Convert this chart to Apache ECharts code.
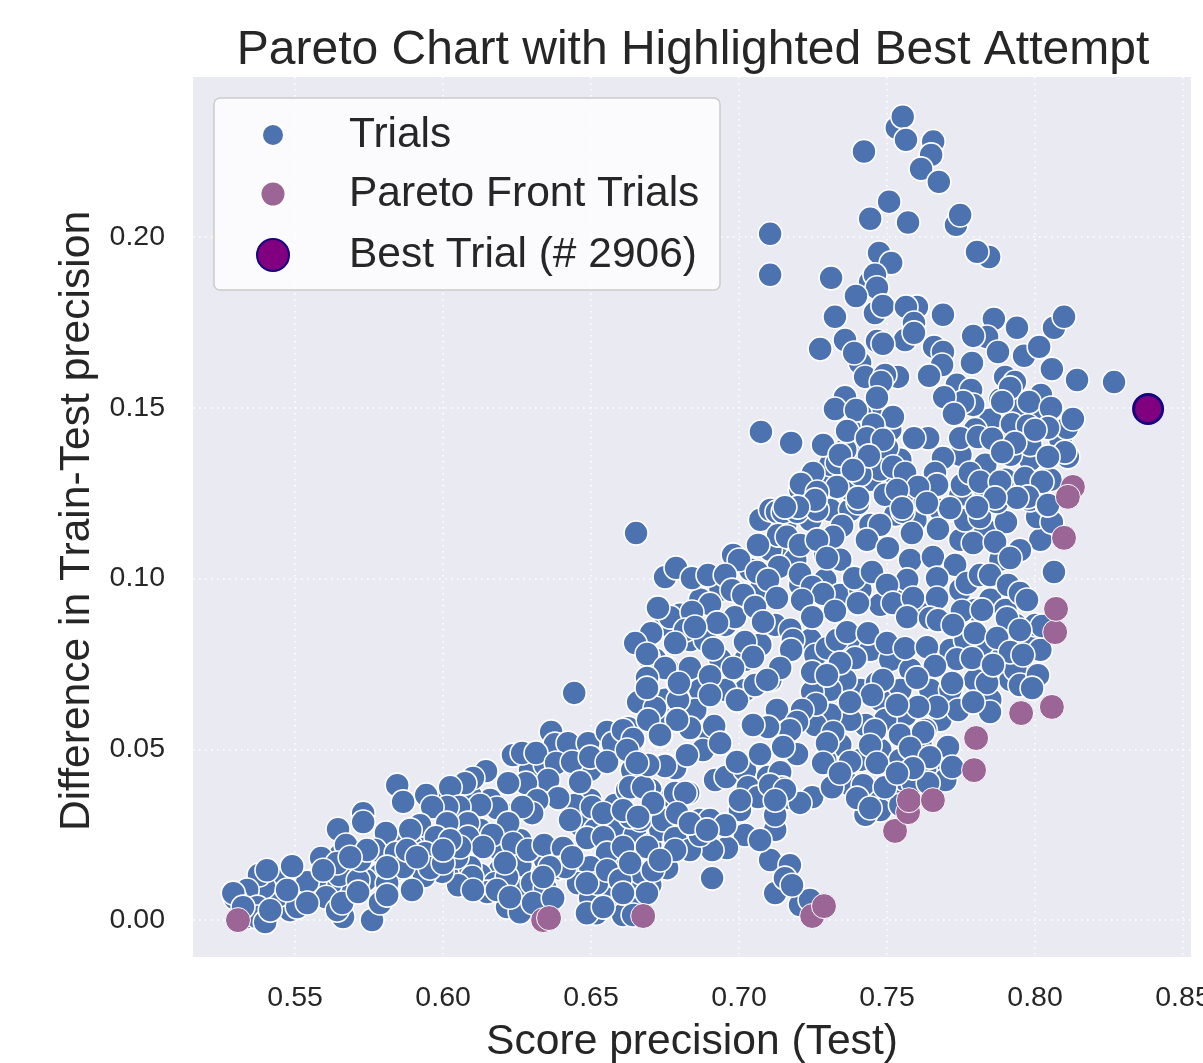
<!DOCTYPE html>
<html><head><meta charset="utf-8">
<style>html,body{margin:0;padding:0;background:#fff}#c{width:1203px;height:1063px}</style>
<script src="https://cdn.jsdelivr.net/npm/echarts@6/dist/echarts.min.js"></script>
</head><body><div id="c"></div>
<script>
const xTicks=[0.55,0.60,0.65,0.70,0.75,0.80,0.85];
const yTicks=[0,0.05,0.10,0.15,0.20];
const bestTrial=[[0.8382,0.1496]];
const paretoTrials=[[.5307,0],[.6338,0],[.6358,.0006],[.6676,.0012],[.7247,.0012],[.7287,.0041],[.7527,.0261],[.7571,.0316],[.7574,.0351],[.7655,.0351],[.7794,.0439],[.7801,.0533],[.7953,.0606],[.8057,.0624],[.8068,.0843],[.8071,.0911],[.8098,.1119],[.8128,.1268],[.8111,.1239]];
const trialsHiddenCentre=[[.6835,.0820],[.6886,.0820],[.6953,.0864],[.7021,.0762],[.7072,.0806],[.7122,.0864],[.7173,.0850],[.7241,.0820],[.7258,.0776],[.7106,.0703],[.7021,.0674],[.6953,.0674],[.6937,.0762],[.6869,.0674],[.6717,.0762],[.6751,.0645],[.6801,.0601],[.6852,.0615],[.6903,.0542],[.6751,.0586],[.7376,.0820],[.7444,.0791],[.7511,.0762],[.7579,.0733],[.7646,.0674],[.7545,.0674],[.7477,.0645],[.7410,.0674],[.7359,.0703],[.7308,.0674],[.7247,.0668],[.7714,.0791],[.7765,.0820],[.7832,.0791],[.7883,.0762],[.7917,.0703],[.7849,.0645],[.7798,.0703],[.7714,.0674],[.7680,.0586],[.7629,.0557],[.7562,.0601],[.7494,.0586],[.7427,.0571],[.7376,.0586],[.7308,.0601],[.7258,.0571],[.7477,.0498],[.7545,.0469],[.7613,.0513],[.7680,.0440],[.7410,.0469],[.7342,.0513],[.7291,.0469],[.7376,.0396],[.7444,.0366],[.7511,.0381],[.7562,.0410],[.7629,.0440],[.7697,.0410],[.7477,.0322],[.7427,.0308],[.7545,.0337]];
const trialsHiddenUpper=[[.7072,.0967],[.7139,.1055],[.7207,.0982],[.7291,.0996],[.7342,.0952],[.7410,.0967],[.7477,.0923],[.7562,.0938],[.7629,.0908],[.7748,.0967],[.7798,.0908],[.7849,.0938],[.7900,.0908],[.7934,.0864],[.7984,.0820],[.8001,.0864],[.8018,.0791],[.7950,.0762],[.7984,.0718],[.7934,.0733],[.7241,.1172],[.7308,.1201],[.7376,.1201],[.7444,.1157],[.7528,.1187],[.7596,.1172],[.7680,.1201],[.7748,.1113],[.7832,.1143],[.7883,.1055],[.8018,.1113],[.7291,.1069],[.7342,.1055],[.7190,.1055],[.7106,.1084],[.7038,.1026],[.6937,.0967],[.6869,.0938],[.6801,.0894],[.6751,.0864],[.7072,.1172],[.7156,.1157],[.7241,.1245],[.7308,.1289],[.7376,.1260],[.7444,.1289],[.7528,.1304],[.7596,.1260],[.7748,.1245],[.7832,.1260],[.7900,.1289],[.7967,.1260],[.8052,.1289],[.7984,.1348],[.7917,.1362],[.7832,.1333],[.7748,.1362],[.7308,.1333],[.7393,.1362],[.7207,.1260],[.7106,.1201],[.7883,.1524],[.7950,.1494],[.8018,.1465],[.8086,.1406],[.7984,.1392],[.7917,.1436],[.7849,.1465],[.7798,.1436],[.7511,.1436],[.7460,.1465],[.7410,.1480],[.7376,.1436],[.7359,.1377],[.7477,.1319],[.7545,.1348],[.7410,.1304]];
const trialsHiddenLower=[[.6294,.0440],[.6345,.0454],[.6446,.0454],[.6497,.0440],[.6700,.0381],[.6497,.0352],[.6446,.0337],[.6227,.0308],[.6159,.0352],[.6092,.0366],[.6007,.0352],[.6261,.0234],[.6193,.0205],[.6125,.0264],[.6024,.0278],[.5956,.0234],[.5889,.0220],[.6463,.0278],[.6514,.0264],[.6582,.0278],[.6649,.0249],[.6700,.0220],[.6734,.0264],[.6599,.0161],[.6548,.0147],[.6615,.0117],[.6666,.0073],[.6700,.0103],[.6430,.0176],[.6345,.0176],[.6261,.0161],[.6193,.0147],[.6125,.0132],[.6041,.0147],[.5973,.0176],[.5923,.0161],[.5838,.0147],[.5787,.0132],[.5737,.0117],[.5686,.0103],[.5618,.0103],[.5568,.0117],[.5466,.0073],[.5399,.0044],[.5348,.0044],[.5365,.0088],[.5432,.0117],[.5652,.0190],[.5601,.0147],[.5720,.0176],[.5787,.0205],[.5855,.0234]];
const trialsUpper=[[.7533,.2319],[.7553,.2352],[.7564,.2284],[.7656,.2279],[.7649,.2240],[.7422,.2250],[.7615,.2199],[.7675,.2161],[.7507,.2103],[.7443,.2053],[.7571,.2042],[.7733,.2035],[.7747,.2064],[.7105,.2009],[.7105,.1889],[.7845,.1941],[.7804,.1956],[.7473,.1953],[.7514,.1924],[.7443,.1868],[.7459,.1889],[.7466,.1851],[.7311,.1880],[.7395,.1827],[.7459,.1777],[.7486,.1798],[.7601,.1795],[.7564,.1795],[.7324,.1766],[.7689,.1772],[.7861,.1760],[.8064,.1734],[.8098,.1766],[.7939,.1734],[.7838,.1707],[.7791,.1710],[.7591,.1748],[.7561,.1698],[.7591,.1719],[.7466,.1695],[.7486,.1687],[.7358,.1698],[.7274,.1672],[.7409,.1631],[.7389,.1660],[.7659,.1678],[.7689,.1663],[.7963,.1652],[.8014,.1678],[.7875,.1663],[.7787,.1631],[.7686,.1625],[.7642,.1593],[.8057,.1613],[.8142,.1581],[.8267,.1575],[.7426,.1590],[.7537,.1590],[.7493,.1596],[.7480,.1575],[.7736,.1567],[.7899,.1590],[.7932,.1575],[.7916,.1558],[.7784,.1552],[.7358,.1531],[.8020,.1537],[.7791,.1508],[.7757,.1517],[.7693,.1531],[.7466,.1529],[.7324,.1496],[.7395,.1493],[.7889,.1517],[.7980,.1517],[.8054,.1499],[.8108,.1441],[.8128,.1467],[.7520,.1473],[.7453,.1450],[.7726,.1482],[.7922,.1452],[.7976,.1447],[.8044,.1441],[.8000,.1435],[.7365,.1432],[.7074,.1429],[.7176,.1397],[.7284,.1391],[.7432,.1411],[.7500,.1382],[.7486,.1406],[.7639,.1411],[.7591,.1411],[.7747,.1411],[.7807,.1414],[.7855,.1409],[.7932,.1397],[.7889,.1370],[.8111,.1356],[.8101,.1370],[.8044,.1356],[.7331,.1338],[.7341,.1362],[.7439,.1359],[.7689,.1353],[.7520,.1327],[.7385,.1318],[.7250,.1309],[.7209,.1277],[.7331,.1268],[.7561,.1309],[.7662,.1309],[.7669,.1274],[.7605,.1268],[.7753,.1274],[.7780,.1309],[.7814,.1283],[.7882,.1283],[.7966,.1294],[.8024,.1283],[.7976,.1239],[.7939,.1236],[.7865,.1236],[.8044,.1215],[.7493,.1245],[.7402,.1236],[.7534,.1259],[.7264,.1253],[.7257,.1230],[.7199,.1209],[.7155,.1209],[.7551,.1206],[.7713,.1206],[.7804,.1209],[.7635,.1221]];
const trialsMiddle=[[.6652,.1133],[.7128,.1195],[.7149,.1195],[.7196,.1195],[.7264,.1201],[.7402,.1221],[.7554,.1195],[.7713,.1201],[.7628,.1224],[.7764,.1171],[.7814,.1180],[.7902,.1165],[.8007,.1180],[.8057,.1165],[.7872,.1224],[.7983,.1230],[.8041,.1215],[.7348,.1154],[.7476,.1157],[.7672,.1145],[.7584,.1133],[.7432,.1113],[.7318,.1122],[.7132,.1127],[.7162,.1122],[.7206,.1098],[.7264,.1113],[.7064,.1098],[.7503,.1089],[.6980,.1069],[.7000,.1054],[.7297,.1060],[.7578,.1054],[.7655,.1063],[.7791,.1104],[.7865,.1107],[.7949,.1083],[.7916,.1060],[.7730,.1040],[.7135,.1034],[.7061,.1019],[.6750,.1004],[.6787,.1031],[.6841,.1001],[.6895,.1010],[.6953,.1010],[.7206,.1013],[.7098,.0996],[.7389,.1001],[.7449,.1019],[.7568,.0996],[.7500,.0981],[.7669,.1001],[.7770,.0987],[.7814,.1010],[.7848,.1010],[.7909,.0981],[.7949,.0958],[.7973,.0937],[.8064,.1019],[.7128,.0943],[.7247,.0975],[.7284,.0955],[.7213,.0937],[.6976,.0966],[.7014,.0952],[.6767,.0887],[.6726,.0914],[.6902,.0925],[.6841,.0902],[.6986,.0887],[.7054,.0917],[.7324,.0905],[.7402,.0928],[.7520,.0928],[.7588,.0943],[.7669,.0943],[.7753,.0905],[.7821,.0908],[.7905,.0884],[.8024,.0861],[.7949,.0849],[.7568,.0887],[.7645,.0884],[.7672,.0878],[.7247,.0887],[.7081,.0873],[.6926,.0870],[.6818,.0849],[.6851,.0858],[.6703,.0840],[.6649,.0811],[.6689,.0779],[.6784,.0811],[.6912,.0794],[.7020,.0814],[.7047,.0770],[.7182,.0820],[.7176,.0791],[.7297,.0796],[.7331,.0820],[.7365,.0843],[.7436,.0840],[.7500,.0811],[.7561,.0796],[.7635,.0799],[.7723,.0864],[.7797,.0840],[.7872,.0826],[.7916,.0785],[.7959,.0776],[.7736,.0764],[.7787,.0767],[.7662,.0744],[.7392,.0767],[.7341,.0753],[.7139,.0738],[.6980,.0738],[.6834,.0738],[.6902,.0714],[.6750,.0738],[.6689,.0709],[.6689,.0679],[.6797,.0694],[.6902,.0659],[.6993,.0644],[.7054,.0688],[.7095,.0703],[.7247,.0726],[.7297,.0717],[.7466,.0694],[.7486,.0703],[.7601,.0709],[.7720,.0694],[.7838,.0694],[.7858,.0747],[.7949,.0688],[.8010,.0717],[.7990,.0679],[.7848,.0609],[.7740,.0615],[.7669,.0624],[.7791,.0638],[.7605,.0624],[.7534,.0630],[.7449,.0659],[.7375,.0638],[.7260,.0632],[.7213,.0615],[.7128,.0615],[.7196,.0580],[.7172,.0556],[.7098,.0565],[.7047,.0571],[.6916,.0568],[.6834,.0562],[.6791,.0586],[.6733,.0542],[.6608,.0556],[.6642,.0530],[.7318,.0550],[.7459,.0556],[.7544,.0542],[.7622,.0550],[.7297,.0518],[.7443,.0512],[.7706,.0507],[.7578,.0504],[.7645,.0477],[.7720,.0448],[.7284,.0460],[.7375,.0463],[.7466,.0460],[.7588,.0445],[.7341,.0430],[.7534,.0430],[.7071,.0486],[.7196,.0486],[.7149,.0507],[.6993,.0463],[.6878,.0498],[.6936,.0518],[.6824,.0483],[.6622,.0498],[.6750,.0451],[.6693,.0454],[.6655,.0460]];
const trialsLowerRight=[[.6919,.0410],[.6956,.0419],[.7020,.0439],[.7098,.0419],[.7139,.0433],[.7030,.0389],[.7064,.0360],[.7145,.0387],[.7172,.0357],[.7247,.0360],[.7003,.0322],[.7206,.0343],[.7314,.0389],[.7419,.0395],[.7493,.0389],[.7399,.0357],[.7443,.0328],[.7588,.0401],[.7639,.0401],[.6632,.0389],[.6676,.0389],[.6784,.0372],[.6818,.0372],[.6709,.0343],[.6608,.0322],[.6791,.0313],[.6659,.0302],[.6868,.0293],[.6902,.0293],[.7122,.0264],[.7105,.0176],[.7172,.0161],[.7122,.0079],[.7155,.0123],[.7206,.0044],[.7240,.0059],[.7179,.0102],[.7020,.0249],[.7071,.0234],[.6959,.0211],[.6909,.0123],[.6909,.0205],[.6834,.0205],[.6953,.0278],[.6868,.0249],[.6834,.0284],[.6892,.0264],[.6784,.0205],[.6733,.0176],[.7003,.0351],[.7105,.0395],[.7122,.0307],[.7155,.0381],[.7122,.0351]];
const trialsLowerLeft=[[.6443,.0665],[.6365,.0551],[.6378,.0515],[.6422,.0518],[.6490,.0518],[.6554,.0551],[.6574,.0518],[.6625,.0562],[.6642,.0524],[.6733,.0539],[.6693,.0770],[.6757,.0738],[.6689,.0676],[.6794,.0694],[.6659,.0638],[.6716,.0621],[.6794,.0644],[.6791,.0586],[.6693,.0586],[.6236,.0483],[.6267,.0489],[.6314,.0489],[.6382,.0460],[.6436,.0463],[.6497,.0477],[.6554,.0463],[.6666,.0454],[.6750,.0454],[.6784,.0445],[.6639,.0439],[.6463,.0404],[.6355,.0410],[.6280,.0401],[.6220,.0401],[.6145,.0436],[.6101,.0416],[.6074,.0401],[.6024,.0389],[.5845,.0395],[.5865,.0346],[.5943,.0366],[.6389,.0357],[.6318,.0351],[.6301,.0313],[.6267,.0331],[.6182,.0328],[.6125,.0337],[.6054,.0331],[.6014,.0331],[.5963,.0331],[.6503,.0331],[.6581,.0337],[.6429,.0293],[.6541,.0313],[.6676,.0389],[.6622,.0381],[.6774,.0360],[.6794,.0307],[.6666,.0293],[.6632,.0302],[.6743,.0293],[.6828,.0372],[.6220,.0284],[.6084,.0284],[.6014,.0284],[.5922,.0278],[.5889,.0264],[.5730,.0313],[.5730,.0287],[.5645,.0266],[.5807,.0255],[.5672,.0220],[.5770,.0205],[.5841,.0196],[.5976,.0243],[.5939,.0196],[.6084,.0243],[.6166,.0249],[.6135,.0214],[.6236,.0225],[.6287,.0205],[.6341,.0220],[.6405,.0211],[.6486,.0240],[.6541,.0243],[.6554,.0196],[.6608,.0214],[.6689,.0214],[.6784,.0240],[.6757,.0152],[.6389,.0152],[.6453,.0146],[.6497,.0155],[.6557,.0097],[.6655,.0111],[.6669,.0138],[.6456,.0108],[.6497,.0064],[.6517,.0020],[.6574,.0064],[.6520,.0108],[.6608,.0015],[.6642,.0015],[.6689,.0079],[.6216,.0038],[.6260,.0023],[.6270,.0088],[.6301,.0108],[.6345,.0094],[.6176,.0108],[.6216,.0126],[.6149,.0082],[.6091,.0155],[.6098,.0126],[.6051,.0102],[.5997,.0141],[.5936,.0129],[.5895,.0088],[.5865,.0155],[.6047,.0184],[.6209,.0167],[.5811,.0108],[.5649,.0132],[.5713,.0117],[.5662,.0009],[.5760,0],[.5605,.0067],[.5541,.0111],[.5490,.0158],[.5588,.0182],[.5483,.0029],[.5446,.0073],[.5395,.0097],[.5378,.0132],[.5338,.0088],[.5297,.0064],[.5372,.0038],[.5341,.0009],[.5372,.0009],[.5399,-.0006],[.5642,.0029],[.5659,.0050],[.5713,.0082],[.5787,.0050],[.5811,.0073],[.5507,.0038],[.5541,.0050],[.5473,.0088],[.5642,.0167],[.5720,.0176],[.5811,.0155],[.5595,.0146],[.5405,.0146],[.5291,.0079],[.5416,.0029],[.5324,.0038],[.5956,.0152],[.6000,.0167],[.6101,.0088],[.6182,.0088],[.6226,.0067],[.6304,.0050],[.6372,.0064],[.6412,.0155],[.6436,.0184],[.6486,.0108],[.6554,.0146],[.6598,.0117],[.6632,.0167],[.6709,.0146],[.6486,.0020],[.6608,.0079],[.6541,.0038],[.6361,.0155],[.6338,.0126],[.6057,.0214],[.6024,.0234],[.6000,.0205],[.5878,.0205],[.5912,.0184],[.5743,.0205],[.5686,.0184]];
const allTrials=[].concat(trialsHiddenLower,trialsHiddenCentre,trialsHiddenUpper,trialsLowerLeft,trialsLowerRight,trialsMiddle,trialsUpper);
const chart=echarts.init(document.getElementById('c'),null,{renderer:'canvas'});
const FONT='"Liberation Sans",Arial,sans-serif';
const INK='#262626';
const grid={show:true,left:193,right:12,top:77,bottom:106,backgroundColor:'#eaeaf2',borderWidth:0,outerBoundsMode:'none'};
const dotted={show:true,lineStyle:{color:'#ffffff',width:1.6,type:[1.6,4.4]}};
function legendItem(name,cy,size){
  return {left:272-size/2,top:cy-20.5,orient:'vertical',padding:0,itemWidth:40,itemHeight:size,
    icon:'circle',data:[name],selectedMode:false,z:6,
    textStyle:{fontFamily:FONT,fontSize:42.5,color:INK,padding:[7,0,0,51]}};
}
chart.setOption({
  animation:false,
  title:{text:'Pareto Chart with Highlighted Best Attempt',left:688,top:22,textAlign:'center',
    textStyle:{fontFamily:FONT,fontSize:48,fontWeight:'normal',color:INK}},
  grid,
  xAxis:{type:'value',min:0.5155,max:0.8527,
    name:'Score precision (Test)',nameLocation:'middle',nameGap:64,
    nameTextStyle:{fontFamily:FONT,fontSize:42.6,color:INK},
    axisLine:{show:false},axisTick:{show:false,customValues:xTicks},
    axisLabel:{customValues:xTicks,formatter:v=>v.toFixed(2),fontFamily:FONT,fontSize:28.5,color:INK,margin:27,hideOverlap:false},
    splitLine:dotted},
  yAxis:{type:'value',min:-0.0108,max:0.2468,
    name:'Difference in Train-Test precision',nameLocation:'middle',nameGap:94,
    nameTextStyle:{fontFamily:FONT,fontSize:42.6,color:INK,padding:[0,8,0,0]},
    axisLine:{show:false},axisTick:{show:false,customValues:yTicks},
    axisLabel:{customValues:yTicks,formatter:v=>v.toFixed(2),fontFamily:FONT,fontSize:28.5,color:INK,margin:28,hideOverlap:false},
    splitLine:dotted},
  legend:[legendItem('Trials',134,22),legendItem('Pareto Front Trials',193,25),legendItem('Best Trial (# 2906)',254,32)],
  graphic:[{type:'rect',z:5,shape:{x:214,y:98,width:506,height:192,r:6},
    style:{fill:'rgba(255,255,255,0.8)',stroke:'#cccccc',lineWidth:1.5}}],
  series:[
    {name:'Trials',type:'scatter',data:allTrials,symbol:'circle',symbolSize:24,z:2,clip:false,
      itemStyle:{color:'#4c72b0',borderColor:'#ffffff',borderWidth:1.6,opacity:1}},
    {name:'Pareto Front Trials',type:'scatter',data:paretoTrials,symbol:'circle',symbolSize:25,z:3,clip:false,
      itemStyle:{color:'#9b6695',borderColor:'#ffffff',borderWidth:1,opacity:1}},
    {name:'Best Trial (# 2906)',type:'scatter',data:bestTrial,symbol:'circle',symbolSize:29,z:4,clip:false,
      itemStyle:{color:'#800080',borderColor:'#15007f',borderWidth:3,opacity:1}}
  ]
});
</script></body></html>
